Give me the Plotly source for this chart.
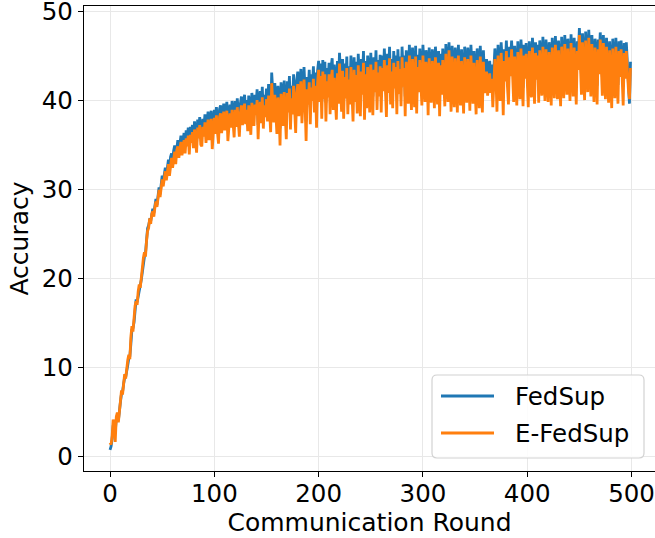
import plotly.graph_objects as go

rounds = list(range(500))

fedsup = [
    0.7, 1.1, 1.9, 3.4, 3.7, 2.8, 4.1, 4.6, 4.0, 4.8,
    6.1, 7.0, 7.2, 8.1, 8.8, 8.9, 9.4, 10.2, 11.0, 11.2,
    12.6, 14.2, 14.4, 15.0, 16.3, 17.6, 17.3, 18.1, 18.8, 19.2,
    19.8, 20.9, 22.0, 22.4, 22.8, 24.5, 25.6, 25.9, 26.5, 26.4,
    27.0, 27.8, 27.3, 28.3, 28.9, 28.2, 29.7, 30.2, 29.4, 30.9,
    31.5, 30.8, 31.9, 32.4, 31.5, 32.9, 33.3, 32.1, 33.6, 34.0,
    33.2, 34.3, 34.9, 33.5, 35.0, 35.5, 34.2, 35.2, 36.0, 34.7,
    35.7, 36.3, 34.9, 36.6, 35.7, 36.9, 34.9, 37.0, 36.1, 37.2,
    35.6, 37.6, 36.3, 35.2, 37.8, 36.7, 38.1, 36.1, 35.9, 37.9,
    36.9, 38.4, 36.3, 37.6, 38.7, 36.6, 38.1, 38.8, 35.8, 38.0,
    38.9, 37.3, 39.2, 37.5, 36.4, 39.0, 39.4, 37.5, 38.5, 39.6,
    37.8, 39.1, 39.8, 36.8, 38.9, 39.5, 38.0, 39.9, 38.5, 37.2,
    39.9, 38.2, 40.2, 38.7, 37.3, 39.6, 40.4, 38.4, 39.4, 40.6,
    38.5, 40.0, 37.8, 40.5, 39.0, 37.5, 40.8, 39.3, 38.4, 40.6,
    39.5, 41.2, 37.2, 40.1, 41.0, 38.8, 41.5, 38.3, 40.6, 39.4,
    41.3, 39.0, 41.8, 40.1, 38.0, 43.1, 40.6, 39.0, 41.9, 39.8,
    37.9, 41.6, 40.3, 36.8, 42.0, 40.6, 38.7, 42.2, 39.8, 37.4,
    42.1, 40.0, 42.7, 38.5, 41.6, 39.9, 42.9, 41.0, 38.2, 42.2,
    43.2, 39.8, 42.3, 43.5, 39.2, 41.8, 43.7, 41.1, 37.6, 42.6,
    41.1, 43.4, 39.2, 42.9, 41.5, 43.8, 40.3, 43.1, 38.9, 43.3,
    44.4, 41.4, 44.1, 39.8, 44.5, 41.8, 44.3, 39.7, 43.6, 42.0,
    44.2, 40.4, 43.8, 44.7, 40.8, 44.0, 42.4, 39.9, 44.4, 41.4,
    45.3, 42.1, 40.7, 44.6, 40.0, 44.1, 42.0, 44.9, 40.5, 43.8,
    41.4, 45.0, 42.8, 39.8, 44.8, 41.7, 44.3, 40.6, 45.2, 43.2,
    40.2, 44.6, 42.4, 45.5, 39.9, 44.4, 41.1, 45.0, 42.1, 40.7,
    45.3, 42.9, 40.4, 44.8, 42.7, 45.6, 41.0, 44.5, 42.3, 45.1,
    40.7, 45.0, 42.8, 45.8, 41.9, 40.3, 45.2, 42.6, 46.0, 41.6,
    44.6, 41.2, 45.5, 43.1, 45.0, 40.6, 45.7, 42.5, 44.9, 41.4,
    46.0, 43.3, 45.0, 40.4, 45.6, 43.2, 41.7, 46.2, 43.9, 41.0,
    45.9, 43.6, 41.4, 46.1, 40.7, 45.1, 42.8, 45.8, 43.4, 41.5,
    46.2, 43.7, 41.9, 45.6, 44.6, 40.5, 45.9, 43.3, 41.8, 45.7,
    44.4, 41.3, 46.0, 43.7, 41.6, 45.5, 40.4, 45.2, 42.6, 45.8,
    43.5, 41.4, 46.3, 44.2, 41.9, 46.5, 43.3, 40.9, 46.1, 44.1,
    41.3, 45.9, 44.3, 40.8, 46.2, 43.2, 41.5, 45.7, 43.7, 40.7,
    46.0, 43.4, 41.8, 45.9, 44.6, 41.0, 46.2, 44.0, 41.7, 45.5,
    43.7, 40.6, 45.8, 44.2, 41.3, 46.1, 43.1, 40.8, 45.6, 42.7,
    43.0, 44.6, 42.4, 43.8, 44.4, 42.6, 44.0, 41.3, 43.6, 45.8,
    44.2, 40.9, 46.2, 44.3, 42.0, 46.5, 44.5, 40.5, 45.7, 43.9,
    46.7, 43.4, 41.6, 46.0, 44.4, 46.7, 43.1, 41.9, 46.1, 43.9,
    41.5, 46.6, 44.6, 42.2, 46.8, 44.9, 41.4, 46.2, 44.1, 46.4,
    44.3, 41.3, 46.6, 44.8, 42.4, 47.0, 45.1, 41.7, 46.5, 44.0,
    46.2, 41.8, 46.7, 44.9, 42.6, 47.1, 44.5, 42.0, 46.8, 44.8,
    41.9, 46.5, 45.2, 41.5, 47.0, 44.6, 42.3, 47.2, 45.3, 42.2,
    46.7, 44.5, 41.4, 47.1, 45.1, 42.3, 47.3, 44.7, 42.7, 46.9,
    44.8, 42.0, 47.4, 45.4, 42.5, 47.0, 44.6, 41.6, 46.6, 45.1,
    48.1, 45.6, 42.7, 47.5, 45.2, 42.1, 47.7, 45.5, 43.0, 47.9,
    45.8, 42.5, 47.3, 44.9, 41.9, 46.9, 45.3, 41.6, 46.8, 44.6,
    47.6, 45.5, 42.6, 47.3, 45.1, 42.2, 47.0, 44.7, 41.8, 46.6,
    44.5, 41.2, 46.9, 45.0, 42.3, 47.0, 44.6, 41.7, 46.6, 44.3,
    46.7, 44.7, 41.5, 46.4, 44.1, 46.5, 44.5, 43.0, 39.6, 44.3,
]

e_fedsup = [
    1.5, 1.3, 2.2, 4.1, 3.5, 1.6, 4.4, 4.9, 3.8, 5.2,
    6.6, 7.4, 6.9, 8.6, 9.2, 8.7, 9.9, 10.8, 11.4, 10.9,
    13.4, 14.6, 14.0, 15.5, 16.9, 17.4, 17.0, 18.5, 19.3, 18.9,
    20.3, 21.2, 22.3, 22.9, 22.4, 24.2, 25.3, 25.6, 26.7, 26.1,
    27.2, 27.5, 26.9, 27.9, 28.6, 28.0, 29.4, 29.9, 29.1, 30.6,
    31.1, 30.3, 31.5, 32.0, 31.0, 32.4, 32.8, 31.5, 33.0, 33.5,
    32.4, 33.7, 34.2, 32.8, 34.4, 34.8, 33.5, 34.5, 35.3, 33.8,
    34.9, 35.5, 34.0, 35.7, 34.8, 36.0, 33.9, 36.1, 35.2, 36.4,
    34.6, 36.7, 35.4, 34.1, 36.9, 35.7, 37.2, 35.0, 34.8, 37.0,
    35.9, 37.5, 35.2, 36.6, 37.8, 35.5, 37.2, 37.9, 34.5, 37.1,
    38.0, 36.2, 38.3, 36.4, 35.1, 38.1, 38.5, 36.3, 37.5, 38.7,
    36.6, 38.1, 38.8, 35.4, 37.8, 38.5, 36.9, 38.9, 37.4, 35.8,
    38.9, 37.0, 39.2, 37.6, 35.9, 38.6, 39.4, 37.2, 38.3, 39.6,
    37.3, 38.9, 36.5, 39.4, 37.9, 36.1, 39.7, 38.2, 37.1, 39.5,
    38.3, 40.0, 35.6, 38.9, 39.8, 37.4, 40.3, 36.8, 39.4, 38.1,
    40.1, 37.6, 40.5, 38.8, 36.4, 41.9, 39.3, 37.5, 40.6, 38.4,
    36.2, 40.3, 38.9, 34.9, 40.7, 39.2, 37.1, 40.9, 38.3, 35.6,
    40.8, 38.6, 41.3, 36.7, 40.2, 38.4, 41.6, 39.5, 36.3, 40.8,
    41.8, 38.2, 40.9, 42.1, 37.4, 40.3, 42.3, 39.6, 35.4, 41.2,
    39.5, 42.0, 37.3, 41.4, 39.9, 42.4, 38.6, 41.6, 36.9, 41.9,
    43.4, 39.8, 42.7, 37.9, 43.2, 40.1, 42.9, 37.6, 42.1, 40.3,
    42.9, 38.4, 42.3, 43.4, 38.9, 42.5, 40.7, 37.8, 43.0, 39.6,
    44.1, 40.4, 38.7, 43.3, 37.9, 42.6, 40.2, 43.6, 38.4, 42.3,
    39.5, 43.7, 41.1, 37.6, 43.4, 39.8, 42.8, 38.5, 43.9, 41.6,
    38.2, 43.2, 40.6, 44.2, 37.8, 42.9, 39.1, 43.7, 40.3, 38.6,
    44.0, 41.2, 38.3, 43.4, 40.9, 44.3, 38.9, 43.1, 40.4, 43.8,
    38.6, 43.6, 41.0, 44.5, 39.9, 38.1, 43.9, 40.8, 44.7, 39.5,
    43.2, 39.1, 44.2, 41.3, 43.7, 38.4, 44.4, 40.7, 43.5, 39.3,
    44.8, 41.5, 43.6, 38.2, 44.3, 41.4, 39.6, 45.0, 42.1, 38.9,
    44.6, 41.8, 39.2, 44.9, 38.5, 43.7, 40.9, 44.5, 41.6, 39.4,
    45.0, 41.9, 39.8, 44.3, 43.1, 38.3, 44.7, 41.5, 39.7, 44.4,
    42.8, 39.1, 44.8, 41.9, 39.5, 44.2, 38.2, 43.9, 40.6, 44.5,
    41.7, 39.3, 45.2, 42.5, 39.8, 45.6, 41.4, 38.7, 44.9, 42.3,
    39.2, 44.7, 42.6, 38.6, 45.0, 41.3, 39.4, 44.4, 41.9, 38.5,
    44.8, 41.6, 39.7, 44.6, 42.9, 38.8, 45.0, 42.2, 39.6, 44.2,
    41.9, 38.4, 44.5, 42.4, 39.1, 44.9, 41.2, 38.6, 44.3, 40.8,
    41.3, 43.2, 40.5, 42.1, 43.0, 40.8, 42.4, 39.2, 41.9, 44.6,
    42.5, 38.7, 45.0, 42.6, 39.9, 45.3, 42.8, 38.3, 44.4, 42.1,
    45.5, 41.6, 39.5, 44.8, 42.7, 45.7, 41.3, 39.8, 44.9, 42.2,
    39.4, 45.4, 42.9, 40.1, 45.8, 43.2, 39.3, 45.0, 42.4, 45.2,
    42.6, 39.2, 45.5, 43.1, 40.3, 45.9, 43.4, 39.6, 45.3, 42.3,
    45.0, 39.7, 45.6, 43.2, 40.5, 46.0, 42.8, 39.9, 45.7, 43.1,
    39.8, 45.4, 43.5, 39.4, 45.9, 42.9, 40.2, 46.2, 43.6, 40.1,
    45.6, 42.8, 39.3, 46.0, 43.4, 40.2, 46.3, 43.0, 40.6, 45.8,
    43.1, 39.9, 46.4, 43.7, 40.4, 45.9, 42.9, 39.5, 45.5, 43.4,
    47.3, 43.9, 40.6, 46.5, 43.5, 40.0, 46.7, 43.8, 40.9, 47.0,
    44.1, 40.4, 46.3, 43.2, 39.8, 45.9, 43.6, 39.5, 45.7, 42.9,
    46.8, 43.8, 40.5, 46.4, 43.4, 40.1, 46.0, 43.0, 39.7, 45.6,
    42.8, 39.1, 45.8, 43.3, 40.2, 46.0, 42.9, 39.6, 45.5, 42.6,
    45.7, 43.0, 39.4, 45.3, 42.4, 45.5, 42.8, 41.2, 40.1, 43.6,
]

x_ticks = [0, 100, 200, 300, 400, 500]
y_ticks = [0, 10, 20, 30, 40, 50]
series_names = ["FedSup", "E-FedSup"]
series_colors = ["#1f77b4", "#ff7f0e"]

FONT = "DejaVu Sans"
W, H = 655, 538
L, R, T, B = 84, 0, 6, 67
PW, PH = W - L - R, H - T - B


def px_x(px):
    return (px - L) / PW


def px_y(py):
    return (H - B - py) / PH


fig = go.Figure()
for name, vals, col in zip(series_names, [fedsup, e_fedsup], series_colors):
    fig.add_trace(go.Scatter(x=rounds, y=vals, mode="lines", name=name,
                             line=dict(color=col, width=2.8), showlegend=False))

axis_common = dict(
    showgrid=True, gridcolor="#e8e8e8", gridwidth=1.2,
    zeroline=False, showline=True, linecolor="black", linewidth=1.3,
    ticks="outside", ticklen=5, tickwidth=1.3, tickcolor="black",
    tickfont=dict(family=FONT, size=24.5, color="black"),
    automargin=False, ticklabeloverflow="allow",
)

# legend drawn as a rounded box with sample lines and real text
x0, x1, y0, y1, r = px_x(432), px_x(644), px_y(375), px_y(458), 5
rx, ry = r / PW, r / PH
path = (f"M {x0+rx},{y0} L {x1-rx},{y0} Q {x1},{y0} {x1},{y0-ry} "
        f"L {x1},{y1+ry} Q {x1},{y1} {x1-rx},{y1} L {x0+rx},{y1} "
        f"Q {x0},{y1} {x0},{y1+ry} L {x0},{y0-ry} Q {x0},{y0} {x0+rx},{y0} Z")
shapes = [dict(type="path", xref="paper", yref="paper", path=path,
               fillcolor="rgba(255,255,255,0.85)", line=dict(color="#d2d2d2", width=1.2),
               layer="above")]
annotations = []
for i, (name, col) in enumerate(zip(series_names, series_colors)):
    yy = px_y(396 + 37 * i)
    shapes.append(dict(type="line", xref="paper", yref="paper",
                       x0=px_x(441), x1=px_x(494), y0=yy, y1=yy,
                       line=dict(color=col, width=2.8), layer="above"))
    annotations.append(dict(xref="paper", yref="paper", x=px_x(513), y=yy,
                            xanchor="left", yanchor="middle", showarrow=False,
                            text=name, font=dict(family=FONT, size=24.5, color="black")))

fig.update_layout(
    width=W, height=H,
    margin=dict(l=L, r=R, t=T, b=B, autoexpand=False),
    paper_bgcolor="white", plot_bgcolor="white",
    font=dict(family=FONT, color="black"),
    showlegend=False,
    shapes=shapes, annotations=annotations,
)
fig.update_xaxes(
    range=[-24.95, 522.5], tickvals=x_ticks, mirror=True,
    ticklabelstandoff=-5,
    title=dict(text="Communication Round", font=dict(family=FONT, size=25), standoff=2),
    **axis_common,
)
fig.update_yaxes(
    range=[-1.67, 50.57], tickvals=y_ticks, mirror=False,
    title=dict(text="Accuracy", font=dict(family=FONT, size=25), standoff=6),
    **axis_common,
)

fig.write_html("out.html", config={"displayModeBar": False},
               post_script="document.body.style.margin='0px';document.body.style.padding='0px';")
